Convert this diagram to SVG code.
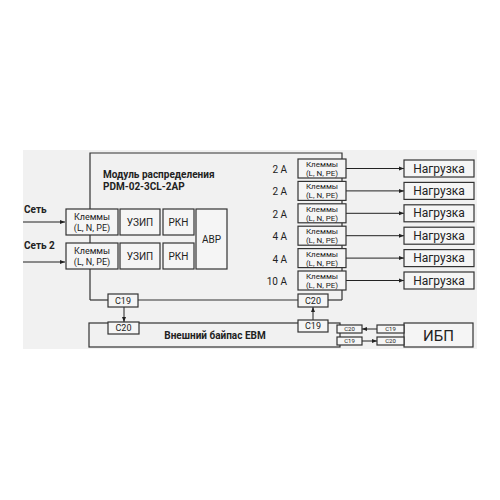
<svg xmlns="http://www.w3.org/2000/svg" width="500" height="500" viewBox="0 0 500 500">
<defs>
<marker id="ah" viewBox="0 0 10 10" refX="10" refY="5" markerWidth="5" markerHeight="5" orient="auto" markerUnits="userSpaceOnUse">
<path d="M0,1 L10,5 L0,9 z" fill="#222"/>
</marker>
<style>
.bx{fill:#f5f5f5;stroke:#333;stroke-width:1.2}
.ln{fill:none;stroke:#333;stroke-width:1.2}
.ar{fill:none;stroke:#222;stroke-width:1;marker-end:url(#ah)}
text{font-family:Roboto,"Liberation Sans",sans-serif;fill:#222}
.t8{font-size:8px;text-anchor:middle}
.t9{font-size:9px;text-anchor:middle}
.t10{font-size:10px;text-anchor:middle}
.tb{font-weight:bold;font-size:10px}
.tn{font-size:12px;text-anchor:middle}
.ts{font-size:6px;text-anchor:middle}
.amp{font-size:10px;text-anchor:end}
</style>
</defs>
<rect x="0" y="0" width="500" height="500" fill="#ffffff"/>
<rect x="23" y="150" width="454" height="199" fill="#f1f1f1"/>

<g id="module">
<path class="ln" d="M90,300 V153 H342 V300"/>
<text class="tb" x="103" y="178">Модуль распределения</text>
<text class="tb" x="103" y="190">PDM-02-3CL-2AP</text>
</g>
<g id="bypass">
<rect class="ln" x="89" y="323" width="251" height="24"/>
<text class="tb" x="215" y="339" text-anchor="middle" font-size="9.5">Внешний байпас ЕВМ</text>
</g>

<g id="connectors">
<line class="ar" x1="23" y1="222" x2="65" y2="222"/>
<line class="ar" x1="23" y1="262" x2="65" y2="262"/>
<line class="ln" x1="90" y1="300" x2="108" y2="300"/>
<line class="ln" x1="138" y1="300" x2="298" y2="300"/>
<line class="ln" x1="328" y1="300" x2="342" y2="300"/>
<line class="ar" x1="124" y1="307" x2="124" y2="322"/>
<line class="ar" x1="313" y1="320" x2="313" y2="307"/>
<line class="ar" x1="377" y1="329" x2="362" y2="329"/>
<line class="ar" x1="362" y1="341" x2="377" y2="341"/>
<line class="ar" x1="346" y1="168.5" x2="404" y2="168.5"/>
<line class="ar" x1="346" y1="190.9" x2="404" y2="190.9"/>
<line class="ar" x1="346" y1="213.3" x2="404" y2="213.3"/>
<line class="ar" x1="346" y1="235.7" x2="404" y2="235.7"/>
<line class="ar" x1="346" y1="258.1" x2="404" y2="258.1"/>
<line class="ar" x1="346" y1="280.5" x2="404" y2="280.5"/>
</g>

<text class="tb" x="24" y="213">Сеть</text>
<text class="tb" x="24" y="249">Сеть 2</text>

<g id="klemmy-in-1"><rect class="bx" x="66" y="209" width="52" height="26"/><text class="t9" x="92" y="220">Клеммы</text><text class="t9" x="92" y="231">(L, N, PE)</text></g>
<g id="uzip-1"><rect class="bx" x="120" y="209" width="40" height="26"/><text class="t10" x="140" y="226">УЗИП</text></g>
<g id="rkn-1"><rect class="bx" x="163" y="209" width="31" height="26"/><text class="t10" x="178.5" y="226">РКН</text></g>
<g id="klemmy-in-2"><rect class="bx" x="66" y="243" width="52" height="26"/><text class="t9" x="92" y="254">Клеммы</text><text class="t9" x="92" y="265">(L, N, PE)</text></g>
<g id="uzip-2"><rect class="bx" x="120" y="243" width="40" height="26"/><text class="t10" x="140" y="260">УЗИП</text></g>
<g id="rkn-2"><rect class="bx" x="163" y="243" width="31" height="26"/><text class="t10" x="178.5" y="260">РКН</text></g>
<g id="avr"><rect class="bx" x="196" y="209" width="31" height="60"/><text class="t10" x="211.5" y="243">АВР</text></g>

<g id="out-1"><text class="amp" x="287" y="173">2 A</text><rect class="bx" x="298" y="159" width="48" height="19"/><text class="t8" x="322" y="167">Клеммы</text><text class="t8" x="322" y="176">(L, N, PE)</text></g>
<g id="out-2"><text class="amp" x="287" y="195.4">2 A</text><rect class="bx" x="298" y="181.4" width="48" height="19"/><text class="t8" x="322" y="189.4">Клеммы</text><text class="t8" x="322" y="198.4">(L, N, PE)</text></g>
<g id="out-3"><text class="amp" x="287" y="217.8">2 A</text><rect class="bx" x="298" y="203.8" width="48" height="19"/><text class="t8" x="322" y="211.8">Клеммы</text><text class="t8" x="322" y="220.8">(L, N, PE)</text></g>
<g id="out-4"><text class="amp" x="287" y="240.2">4 A</text><rect class="bx" x="298" y="226.2" width="48" height="19"/><text class="t8" x="322" y="234.2">Клеммы</text><text class="t8" x="322" y="243.2">(L, N, PE)</text></g>
<g id="out-5"><text class="amp" x="287" y="262.6">4 A</text><rect class="bx" x="298" y="248.6" width="48" height="19"/><text class="t8" x="322" y="256.6">Клеммы</text><text class="t8" x="322" y="265.6">(L, N, PE)</text></g>
<g id="out-6"><text class="amp" x="287" y="285">10 A</text><rect class="bx" x="298" y="271" width="48" height="19"/><text class="t8" x="322" y="279">Клеммы</text><text class="t8" x="322" y="288">(L, N, PE)</text></g>

<g id="load-1"><rect class="bx" x="404" y="160" width="70" height="17"/><text class="tn" x="439" y="172.5">Нагрузка</text></g>
<g id="load-2"><rect class="bx" x="404" y="182.4" width="70" height="17"/><text class="tn" x="439" y="194.9">Нагрузка</text></g>
<g id="load-3"><rect class="bx" x="404" y="204.8" width="70" height="17"/><text class="tn" x="439" y="217.3">Нагрузка</text></g>
<g id="load-4"><rect class="bx" x="404" y="227.2" width="70" height="17"/><text class="tn" x="439" y="239.7">Нагрузка</text></g>
<g id="load-5"><rect class="bx" x="404" y="249.6" width="70" height="17"/><text class="tn" x="439" y="262.1">Нагрузка</text></g>
<g id="load-6"><rect class="bx" x="404" y="272" width="70" height="17"/><text class="tn" x="439" y="284.5">Нагрузка</text></g>

<g id="c19-module"><rect class="bx" x="108" y="294" width="30" height="13"/><text class="t9" x="123" y="303.8">C19</text></g>
<g id="c20-module"><rect class="bx" x="298" y="294" width="30" height="13"/><text class="t9" x="313" y="303.8">C20</text></g>
<g id="c20-bypass"><rect class="bx" x="108" y="322" width="31" height="12"/><text class="t9" x="123.5" y="331.3">C20</text></g>
<g id="c19-bypass"><rect class="bx" x="298" y="320" width="30" height="12"/><text class="t9" x="313" y="329.3">C19</text></g>

<g id="ups"><rect class="bx" x="404" y="323" width="69" height="24"/><text x="438.5" y="340.5" font-size="15" text-anchor="middle">ИБП</text></g>
<g id="c20-bp-out"><rect class="bx" x="337" y="325" width="25" height="8"/><text class="ts" x="349.5" y="331.2">C20</text></g>
<g id="c19-bp-out"><rect class="bx" x="337" y="337" width="25" height="8"/><text class="ts" x="349.5" y="343.2">C19</text></g>
<g id="c19-ups"><rect class="bx" x="377" y="325" width="27" height="8"/><text class="ts" x="390.5" y="331.2">C19</text></g>
<g id="c20-ups"><rect class="bx" x="377" y="337" width="27" height="8"/><text class="ts" x="390.5" y="343.2">C20</text></g>
</svg>
